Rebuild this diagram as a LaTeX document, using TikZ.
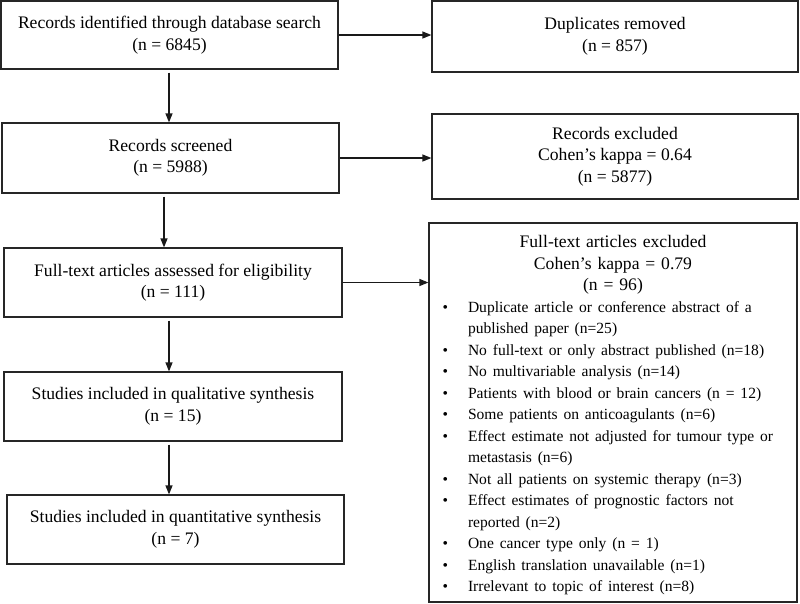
\documentclass[tikz,border=0pt]{standalone}
\usepackage{fontspec}
\setmainfont{Liberation Serif}
\usetikzlibrary{arrows.meta,calc}
\begin{document}
\begin{tikzpicture}[x=1pt,y=-1pt,
  box/.style={draw=black!85, line width=1.2pt, align=center, inner sep=0pt,
    font=\fontsize{17.6}{21.5}\selectfont},
  arr/.style={-{Triangle[length=9pt,width=7pt]}, line width=1.2pt, draw=black!90}]
\useasboundingbox (0,0) rectangle (800,603);

\node[box, minimum width=337, minimum height=68] (ident) at (169.5,35)
  {Records identified through database search\\(n = 6845)};
\node[box, minimum width=366, minimum height=71] (dup) at (615,36.5)
  {Duplicates removed\\(n = 857)};
\node[box, minimum width=337, minimum height=70] (screen) at (170.5,158)
  {Records screened\\(n = 5988)};
\node[box, minimum width=366, minimum height=85] (recex) at (615,156.5)
  {Records excluded\\Cohen’s kappa = 0.64\\(n = 5877)};
\node[box, minimum width=338, minimum height=69] (full) at (173,282.5)
  {Full-text articles assessed for eligibility\\(n = 111)};
\node[box, minimum width=338, minimum height=69] (qual) at (173,406.5)
  {Studies included in qualitative synthesis\\(n = 15)};
\node[box, minimum width=337, minimum height=69] (quant) at (175.5,529.5)
  {Studies included in quantitative synthesis\\(n = 7)};

\node[box, minimum height=379, text width=354pt, inner xsep=7pt, align=left] (ftex) at (613,412.5)
  {{\centering\rule{0pt}{17.5pt}Full-text articles excluded\\Cohen’s kappa = 0.79\\(n = 96)\par}%
   \fontsize{15.55}{21.5}\selectfont\raggedright
   \begin{list}{\textbullet}{\setlength{\leftmargin}{32pt}\setlength{\labelwidth}{10pt}%
     \setlength{\labelsep}{20pt}\setlength{\itemsep}{0pt}\setlength{\parsep}{0pt}%
     \setlength{\topsep}{0pt}\setlength{\partopsep}{0pt}}
   \item Duplicate article or conference abstract of a\\published paper (n=25)
   \item No full-text or only abstract published (n=18)
   \item No multivariable analysis (n=14)
   \item Patients with blood or brain cancers (n = 12)
   \item Some patients on anticoagulants (n=6)
   \item Effect estimate not adjusted for tumour type or\\metastasis (n=6)
   \item Not all patients on systemic therapy (n=3)
   \item Effect estimates of prognostic factors not\\reported (n=2)
   \item One cancer type only (n = 1)
   \item English translation unavailable (n=1)
   \item Irrelevant to topic of interest (n=8)
   \end{list}};

\draw[arr] (ident.east) -- (ident.east -| dup.west);
\draw[arr] (screen.east) -- (screen.east -| recex.west);
\draw[arr] (full.east) -- (full.east -| ftex.west);
\draw[arr, shorten <=3pt] ([xshift=-0.5pt]ident.south) -- ([xshift=-0.5pt]ident.south |- screen.north);
\draw[arr, shorten <=3pt] ([xshift=-6.5pt]screen.south) -- ([xshift=-6.5pt]screen.south |- full.north);
\draw[arr, shorten <=3pt] ([xshift=-4pt]full.south) -- ([xshift=-4pt]full.south |- qual.north);
\draw[arr, shorten <=3pt] ([xshift=-4pt]qual.south) -- ([xshift=-4pt]qual.south |- quant.north);
\end{tikzpicture}
\end{document}
